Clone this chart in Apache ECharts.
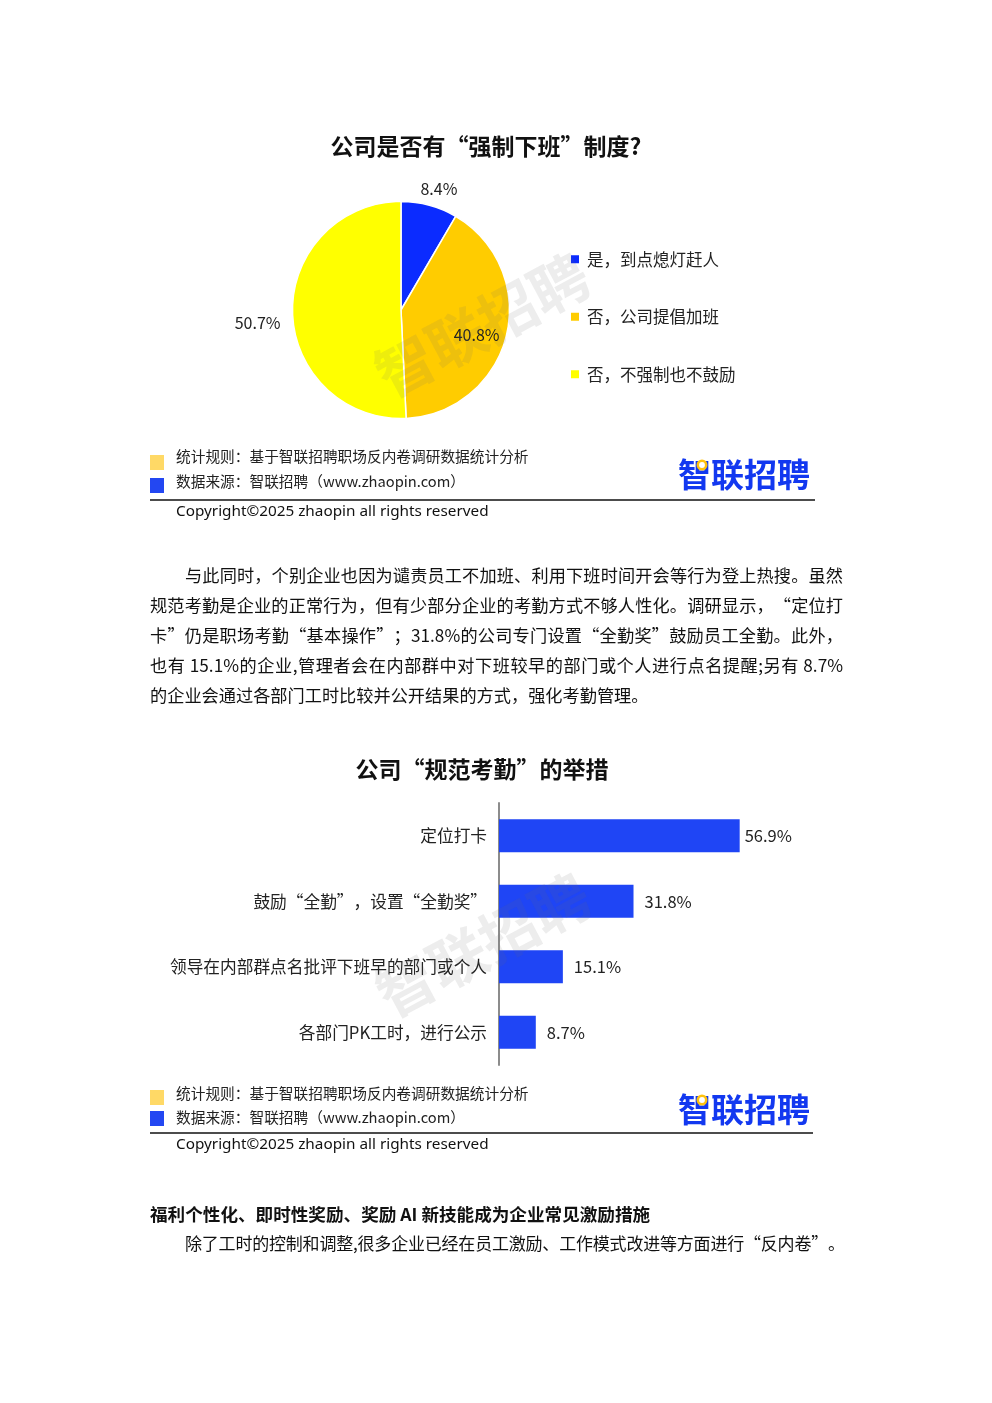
<!DOCTYPE html>
<html><head><meta charset="utf-8">
<script src="https://cdn.jsdelivr.net/npm/echarts@6/dist/echarts.min.js"></script>
<style>html,body{margin:0;padding:0;background:#fff}#c{width:992px;height:1403px}</style>
</head><body><div id="c"></div>
<script>
// ---- data ----
const pieTitle = '公司是否有“强制下班”制度?';
const pieNames = ['是，到点熄灯赶人', '否，公司提倡加班', '否，不强制也不鼓励'];
const pieValues = [8.4, 40.8, 50.7];
const barTitle = '公司“规范考勤”的举措';
const barCategories = ['定位打卡', '鼓励“全勤”，设置“全勤奖”', '领导在内部群点名批评下班早的部门或个人', '各部门PK工时，进行公示'];
const barValues = [56.9, 31.8, 15.1, 8.7];
const footRule = '统计规则：基于智联招聘职场反内卷调研数据统计分析';
const footSource = '数据来源：智联招聘（www.zhaopin.com）';
const copyright = 'Copyright©2025 zhaopin all rights reserved';
const brand = '智联招聘';
const paragraph = [
  '与此同时，个别企业也因为谴责员工不加班、利用下班时间开会等行为登上热搜。虽然',
  '规范考勤是企业的正常行为，但有少部分企业的考勤方式不够人性化。调研显示，“定位打',
  '卡”仍是职场考勤“基本操作”；31.8%的公司专门设置“全勤奖”鼓励员工全勤。此外，',
  '也有 15.1%的企业,管理者会在内部群中对下班较早的部门或个人进行点名提醒;另有 8.7%',
  '的企业会通过各部门工时比较并公开结果的方式，强化考勤管理。'
];
const heading = '福利个性化、即时性奖励、奖励 AI 新技能成为企业常见激励措施';
const lastLine = '除了工时的控制和调整,很多企业已经在员工激励、工作模式改进等方面进行“反内卷”。';

// ---- style ----
const FONT = '"Noto Sans CJK SC", "Noto Sans", sans-serif';
const LATIN = '"Noto Sans", "Noto Sans CJK SC", sans-serif';
const pieColors = ['#0B2BFF', '#FFCC00', '#FFFF00'];
const barColor = '#1F45F5';

const ctx = document.createElement('canvas').getContext('2d');
function justify(text, x0, x1, y, size, weight, fill) {
  const font = (weight || 'normal') + ' ' + size + 'px ' + FONT;
  ctx.font = font;
  const tokens = text.match(/[\x21-\x7e]+|\s+|[^\x00-\x7f]/g);
  const widths = tokens.map(t => ctx.measureText(t).width);
  const total = widths.reduce((a, b) => a + b, 0);
  const extra = x1 == null ? 0 : (x1 - x0 - total) / (tokens.length - 1);
  const els = [];
  let x = x0;
  tokens.forEach((t, i) => {
    if (!/^\s+$/.test(t)) {
      els.push({type: 'text', silent: true, style: {text: t, x: x, y: y, font: font, fill: fill || '#111', textAlign: 'left', textVerticalAlign: 'middle'}});
    }
    x += widths[i] + extra;
  });
  return els;
}
function txt(text, x, y, size, opts) {
  opts = opts || {};
  return {type: 'text', silent: true, z: opts.z || 10, style: {text: text, x: x, y: y,
    font: (opts.weight || 'normal') + ' ' + size + 'px ' + (opts.family || FONT), fill: opts.fill || '#111',
    textAlign: opts.align || 'left', textVerticalAlign: 'middle'}};
}
function footer(y1, y2, sqY1, sqY2, lineY, copyY, logoY, lineX2) {
  return [
    {type: 'rect', silent: true, shape: {x: 150, y: sqY1, width: 14, height: 15}, style: {fill: '#FFD966'}},
    {type: 'rect', silent: true, shape: {x: 150, y: sqY2, width: 14, height: 15}, style: {fill: '#2347F2'}},
    txt(footRule, 176, y1, 14.7, {fill: '#222'}),
    txt(footSource, 176, y2, 14.7, {fill: '#222'}),
    {type: 'line', silent: true, shape: {x1: 150, y1: lineY, x2: lineX2, y2: lineY}, style: {stroke: '#111', lineWidth: 1.6}},
    txt(copyright, 176, copyY, 15.3, {fill: '#111', family: LATIN}),
    txt(brand, 678, logoY, 33, {weight: 'bold', fill: '#1238F0'}),
    {type: 'circle', silent: true, z: 11, shape: {cx: 702, cy: logoY - 9, r: 4.2}, style: {fill: '#fff', stroke: '#FFC20E', lineWidth: 2.6}}
  ];
}
function watermark(cx, cy) {
  return {type: 'text', silent: true, z: 50, x: cx, y: cy, rotation: 0.49,
    style: {text: brand, x: 0, y: 0, font: 'bold 58px ' + FONT, fill: 'rgba(110,110,110,0.12)', textAlign: 'center', textVerticalAlign: 'middle'}};
}

let graphics = [];
graphics.push(txt(pieTitle, 486, 146, 23, {weight: 'bold', align: 'center'}));
graphics = graphics.concat(footer(456, 481, 455, 478, 500, 512, 474, 815));
paragraph.forEach((line, i) => {
  const last = i === paragraph.length - 1;
  graphics = graphics.concat(justify(line, i === 0 ? 185 : 150, last ? null : 843, 575 + i * 30, 17.2));
});
graphics.push(txt(barTitle, 482, 769, 23, {weight: 'bold', align: 'center'}));
graphics = graphics.concat(footer(1093, 1117, 1090, 1111, 1133, 1145, 1109, 813));
graphics = graphics.concat(justify(heading, 150, null, 1214, 17.6, 'bold'));
graphics = graphics.concat(justify(lastLine, 185, 845, 1244, 17));
graphics.push(watermark(482, 325));
graphics.push(watermark(483, 945));

const pieLabelShift = [[-16, -9], [20, 11], [1, 10]];
const barLabelGap = [5, 11, 11, 11];

const chart = echarts.init(document.getElementById('c'), null, {renderer: 'canvas'});
chart.setOption({
  backgroundColor: '#fff',
  animation: false,
  textStyle: {fontFamily: FONT},
  legend: {
    data: pieNames, orient: 'vertical', left: 564, top: 246,
    icon: 'rect', itemWidth: 10, itemHeight: 10, itemGap: 41,
    textStyle: {fontSize: 16.5, color: '#222', fontFamily: FONT, padding: [0, 0, 0, 2]}
  },
  grid: {left: 499, top: 803, width: 423, height: 262, containLabel: false},
  xAxis: {type: 'value', min: 0, max: 100, show: false},
  yAxis: {
    type: 'category', data: barCategories, inverse: true,
    axisLine: {lineStyle: {color: '#8c8c8c', width: 2}},
    axisTick: {length: 6, lineStyle: {color: '#8c8c8c', width: 2}},
    axisLabel: {fontSize: 16.7, color: '#222', margin: 12, fontFamily: FONT}
  },
  series: [
    {
      type: 'pie', center: [401, 310], radius: 108.5, startAngle: 90, clockwise: true,
      data: pieNames.map((n, i) => ({name: n, value: pieValues[i],
        itemStyle: {color: pieColors[i]},
        label: {position: i === 1 ? 'inside' : 'outside'}})),
      itemStyle: {borderColor: '#fff', borderWidth: 1.5},
      label: {formatter: '{c}%', fontSize: 16, color: '#222', fontFamily: FONT},
      labelLine: {show: false, length: 8, length2: 0},
      labelLayout: p => ({dx: pieLabelShift[p.dataIndex][0], dy: pieLabelShift[p.dataIndex][1]}),
      emphasis: {disabled: true}
    },
    {
      type: 'bar', barWidth: 33,
      data: barValues.map((v, i) => ({value: v, label: {distance: barLabelGap[i]}})),
      itemStyle: {color: barColor},
      label: {show: true, position: 'right', formatter: '{c}%', fontSize: 16.5, color: '#222', fontFamily: FONT},
      emphasis: {disabled: true}
    }
  ],
  graphic: graphics
});
</script></body></html>
